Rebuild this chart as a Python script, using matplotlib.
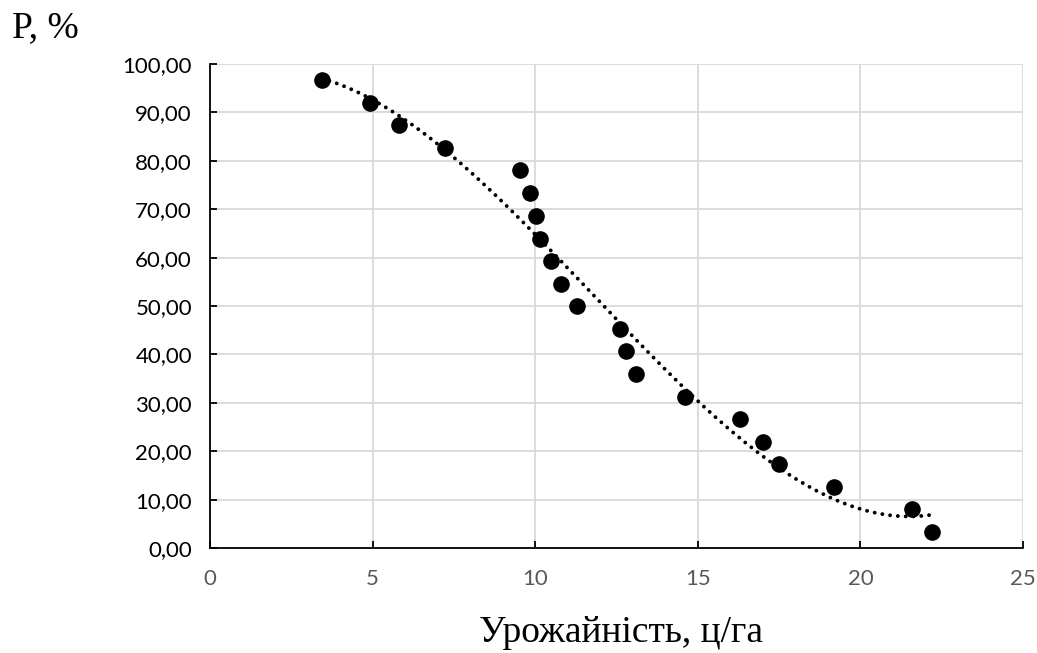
import numpy as np
import matplotlib
matplotlib.use("Agg")
import matplotlib.pyplot as plt
from matplotlib.ticker import FuncFormatter

# Data
yield_x = [3.44, 4.92, 5.81, 7.23, 9.53, 9.84, 10.02, 10.15, 10.50, 10.80, 11.30,
           12.60, 12.80, 13.10, 14.60, 16.30, 17.00, 17.50, 19.20, 21.60, 22.20]
prob_p = [96.6, 92.0, 87.3, 82.6, 78.0, 73.3, 68.6, 63.9, 59.3, 54.6, 50.0,
          45.3, 40.6, 36.0, 31.3, 26.6, 22.0, 17.3, 12.6, 8.0, 3.3]
x_ticks = [0, 5, 10, 15, 20, 25]
y_ticks = [0, 10, 20, 30, 40, 50, 60, 70, 80, 90, 100]
x_label = "Урожайність, ц/га"
y_label = "P, %"

fig = plt.figure(figsize=(10.37, 6.53), dpi=100)
ax = fig.add_axes([0.2025, 0.1608, 0.784, 0.7412])

ax.set_xlim(0, 25)
ax.set_ylim(0, 100)
ax.set_xticks(x_ticks)
ax.set_yticks(y_ticks)
ax.grid(True, color="#d9d9d9", linewidth=1.3, zorder=0)
ax.set_axisbelow(True)

for s in ["top", "right"]:
    ax.spines[s].set_visible(False)
for s in ["bottom", "left"]:
    ax.spines[s].set_color("black")
    ax.spines[s].set_linewidth(1.3)

ax.tick_params(axis="both", direction="in", length=5, width=1.3, color="black")
ax.tick_params(axis="y", pad=13, labelsize=16, labelcolor="black")
ax.tick_params(axis="x", pad=15, labelsize=16, labelcolor="#595959")
ax.yaxis.set_major_formatter(FuncFormatter(lambda v, p: f"{v:.2f}".replace(".", ",")))
ax.xaxis.set_major_formatter(FuncFormatter(lambda v, p: f"{int(v)}"))
for lbl in ax.get_xticklabels() + ax.get_yticklabels():
    lbl.set_family("Lato")

# Polynomial (3rd order) trendline
coef = np.polyfit(yield_x, prob_p, 3)
xs = np.linspace(min(yield_x), max(yield_x), 300)
ax.plot(xs, np.polyval(coef, xs), color="black", linewidth=2.8,
        linestyle=(0, (0.01, 2.0)), dash_capstyle="round", zorder=2, clip_on=False)

ax.scatter(yield_x, prob_p, s=120, color="black", zorder=3, clip_on=False)

fig.text(0.012, 0.943, y_label, fontsize=27, family="Liberation Serif", ha="left", va="baseline")
fig.text(0.5985, 0.017, x_label, fontsize=27, family="Liberation Serif", ha="center", va="baseline")

fig.savefig("out.png", dpi=100, facecolor="white")
